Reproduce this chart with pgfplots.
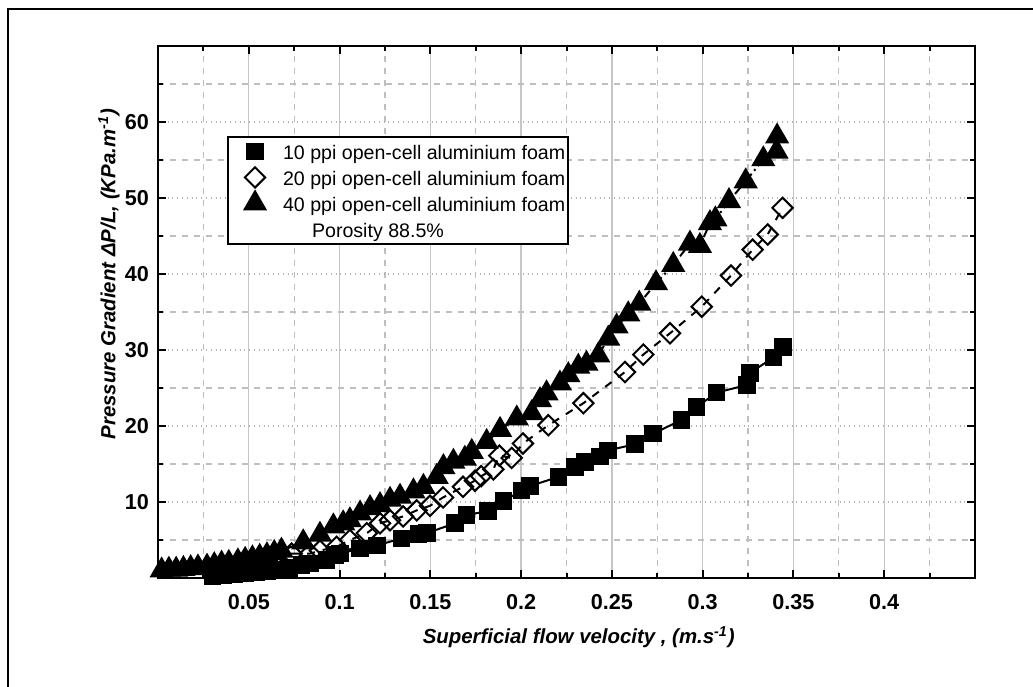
\documentclass[border=0pt]{standalone}
\usepackage{pgfplots}
\pgfplotsset{compat=1.18}
\usepackage{fontspec}
\setmainfont{Liberation Sans}

\begin{document}
\begin{tikzpicture}
\useasboundingbox (-79pt,-54pt) rectangle (437.5pt,289pt);
% outer figure frame (top and left edges visible)
\draw[line width=1pt] (-75pt,-60pt) -- (-75pt,284.5pt) -- (445pt,284.5pt);
\begin{axis}[
  scale only axis, width=408.5pt, height=266pt,
  xmin=0, xmax=0.45, ymin=0, ymax=70,
  xtick={0.05,0.1,0.15,0.2,0.25,0.3,0.35,0.4},
  xticklabels={0.05,0.1,0.15,0.2,0.25,0.3,0.35,0.4},
  ytick={10,20,30,40,50,60},
  yticklabels={10,20,30,40,50,60},
  minor xtick={0.025,0.075,0.125,0.175,0.225,0.275,0.325,0.375,0.425},
  minor ytick={5,15,25,35,45,55,65},
  tick pos=both, tick align=inside,
  major tick length=4pt, minor tick length=2.5pt,
  every tick/.style={black, line width=1pt},
  axis line style={line width=1.2pt},
  grid=both,
  major x grid style={solid, gray!45, line width=0.7pt},
  minor x grid style={dashed, gray!50, line width=0.6pt},
  major y grid style={dotted, gray!60, line width=0.7pt},
  minor y grid style={dashed, gray!50, line width=0.6pt},
  /pgf/number format/assume math mode=true,
  tick label style={font=\fontsize{10.8}{12}\selectfont\bfseries},
  xticklabel style={yshift=-4.6pt},
  yticklabel style={xshift=-1pt},
  xlabel={Superficial flow velocity , (m.s\textsuperscript{-1})},
  ylabel={Pressure Gradient ΔP/L, (KPa.m\textsuperscript{-1})},
  label style={font=\fontsize{10.2}{12}\selectfont\bfseries\itshape},
  xlabel style={at={(axis description cs:0.515,-0.111)}, anchor=center},
  ylabel style={at={(axis description cs:-0.060,0.571)}, anchor=center, rotate=0},
  legend style={at={(axis description cs:0.0845,0.831)}, anchor=north west,
    draw=black, line width=1pt, fill=white, inner xsep=1.6pt, inner ysep=0.75pt,
    font=\fontsize{9.8}{11}\selectfont, row sep=0pt, column sep=2.1pt,
    nodes={inner xsep=0pt, inner ysep=0pt, text height=10.5pt, text depth=2.5pt}},
  legend cell align=left,
  legend image code/.code={\path (0pt,0pt) (22.8pt,0pt);
    \draw[#1,only marks] plot coordinates {(11.4pt,0pt)};},
]
% 10 ppi
\addplot[black, line width=1pt, mark=square*, mark size=3.9pt, mark options={solid, fill=black}] coordinates {
(0.030,0.3) (0.036,0.4) (0.042,0.5) (0.048,0.6) (0.054,0.7) (0.060,0.9)
(0.066,1.1) (0.072,1.3) (0.079,1.7) (0.0837,1.9) (0.0929,2.4) (0.0975,3.0)
(0.1002,3.2) (0.1113,3.9) (0.1205,4.3) (0.1342,5.2) (0.1434,5.8) (0.148,5.9)
(0.1636,7.2) (0.170,8.3) (0.1819,8.8) (0.1902,10.1) (0.2003,11.5) (0.2049,12.1)
(0.2205,13.3) (0.2297,14.6) (0.2352,15.3) (0.2434,16.0) (0.248,16.8) (0.2627,17.6)
(0.2728,19.0) (0.2884,20.8) (0.2967,22.5) (0.3077,24.4) (0.3245,25.4) (0.326,27.0)
(0.339,29.0) (0.3444,30.4)
};
\addlegendentry{10 ppi open-cell aluminium foam}
% 20 ppi
\addplot[black, line width=1pt, dash pattern=on 4pt off 4pt, mark=square, mark size=3.6pt, mark options={solid, rotate=45, fill=white}] coordinates {
(0.040,0.9) (0.050,1.2) (0.058,1.6) (0.066,2.0)
(0.0736,3.2) (0.0837,3.2) (0.0892,3.6) (0.0984,4.1) (0.1057,5.0) (0.115,5.9)
(0.1223,7.2) (0.1278,7.6) (0.135,8.1) (0.1425,8.9) (0.1498,9.5) (0.157,10.6)
(0.168,12.0) (0.1746,12.8) (0.178,13.4) (0.1847,14.3) (0.188,16.1) (0.1948,15.8)
(0.201,17.7) (0.215,20.1) (0.2343,23.0) (0.2572,27.1) (0.2673,29.4) (0.282,32.2)
(0.2995,35.7) (0.3156,39.8) (0.3275,43.2) (0.3358,45.2) (0.344,48.7)
};
\addlegendentry{20 ppi open-cell aluminium foam}
% 40 ppi
\addplot[black, line width=1pt, dash pattern=on 4pt off 2pt on 1pt off 2pt, mark=triangle*, mark size=6pt, mark options={solid, fill=black}] coordinates {
(0.002,1.0) (0.006,1.1) (0.010,1.1) (0.014,1.2) (0.018,1.3) (0.022,1.4)
(0.027,1.5) (0.031,1.7) (0.035,1.9) (0.039,2.0) (0.044,2.2) (0.048,2.4)
(0.052,2.6) (0.056,2.8) (0.060,3.0) (0.064,3.3) (0.068,3.6) (0.080,4.7)
(0.0892,5.7) (0.0966,6.8) (0.102,7.2) (0.1057,7.6) (0.1113,8.5) (0.1168,9.2)
(0.1223,9.6) (0.1278,10.3) (0.1333,10.7) (0.1407,11.4) (0.1462,12.0) (0.1535,13.3)
(0.1572,14.6) (0.1627,15.3) (0.169,15.7) (0.1728,16.6) (0.181,17.9) (0.1884,19.5)
(0.1976,21.0) (0.2058,21.7) (0.2104,23.4) (0.214,24.3) (0.2214,25.6) (0.226,26.7)
(0.2315,27.8) (0.236,28.2) (0.2425,29.3) (0.248,31.5) (0.2526,33.1) (0.259,34.7)
(0.2651,36.1) (0.2743,38.8) (0.2838,41.2) (0.293,44.0) (0.2985,43.7) (0.304,46.7)
(0.307,47.2) (0.3145,49.6) (0.3237,52.2) (0.3334,55.1) (0.3407,56.1) (0.341,58.1)
};
\addlegendentry{40 ppi open-cell aluminium foam}
\addlegendimage{empty legend}
\addlegendentry{\hspace{14.5pt}Porosity 88.5\%}
\end{axis}
\end{tikzpicture}
\end{document}
